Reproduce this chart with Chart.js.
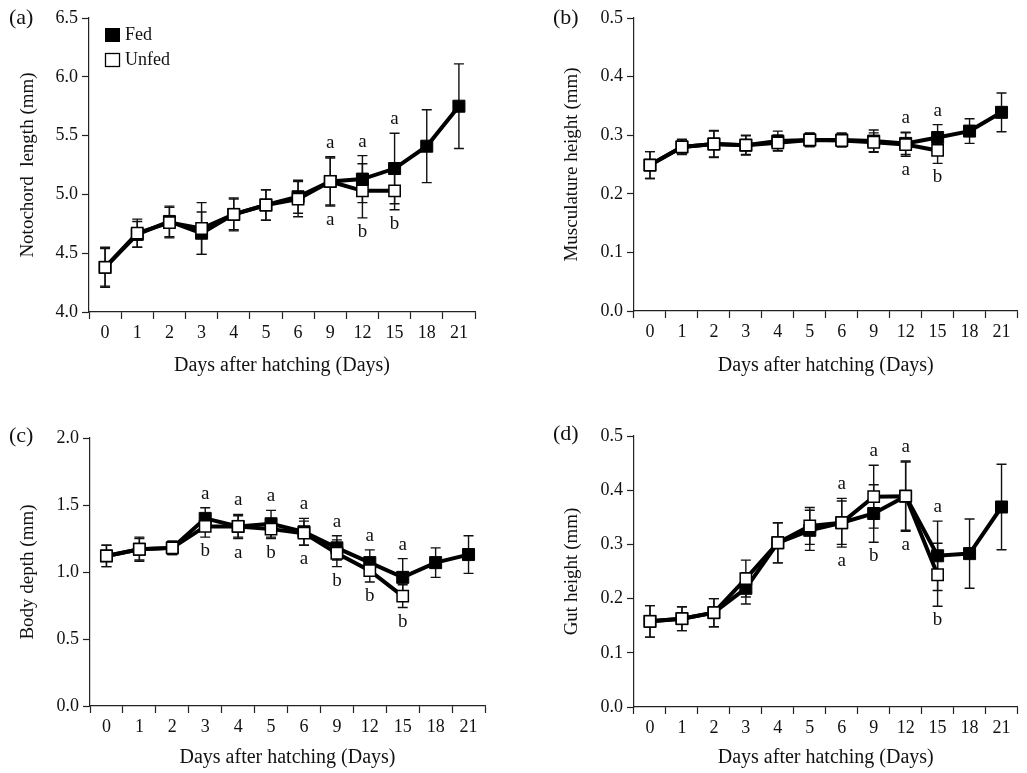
<!DOCTYPE html>
<html><head><meta charset="utf-8">
<script src="https://cdn.jsdelivr.net/npm/chart.js@4/dist/chart.umd.min.js"></script>
<style>
html,body{margin:0;padding:0;background:#fff;width:1027px;height:773px;overflow:hidden}
.panel{position:absolute}
canvas{display:block}
.lab{position:absolute;font-family:"Liberation Serif","Times New Roman",serif;font-size:22px;color:#111;line-height:1}
</style></head><body>
<div class="panel" style="left:0;top:0"><canvas id="ca" width="510" height="390"></canvas></div>
<div class="panel" style="left:510px;top:0"><canvas id="cb" width="517" height="390"></canvas></div>
<div class="panel" style="left:0;top:390px"><canvas id="cc" width="510" height="383"></canvas></div>
<div class="panel" style="left:510px;top:390px"><canvas id="cd" width="517" height="383"></canvas></div>
<div class="lab" style="left:9px;top:6px">(a)</div>
<div class="lab" style="left:553px;top:6px">(b)</div>
<div class="lab" style="left:9px;top:424px">(c)</div>
<div class="lab" style="left:553px;top:422px">(d)</div>
<script>
// ---- data ----
const days = ['0','1','2','3','4','5','6','9','12','15','18','21'];

const fedA      = [4.38, 4.66, 4.77, 4.67, 4.83, 4.91, 4.98, 5.11, 5.13, 5.22, 5.41, 5.75];
const fedAErr   = [0.16, 0.11, 0.13, 0.18, 0.14, 0.13, 0.14, 0.20, 0.20, 0.30, 0.31, 0.36];
const unfedA    = [4.38, 4.67, 4.76, 4.71, 4.83, 4.91, 4.96, 5.11, 5.03, 5.03, null, null];
const unfedAErr = [0.17, 0.12, 0.13, 0.22, 0.13, 0.13, 0.15, 0.21, 0.23, 0.16, null, null];
const sigA = [[7,'a','a'],[8,'a','b'],[9,'a','b']];

const fedB      = [0.249, 0.280, 0.285, 0.283, 0.290, 0.292, 0.292, 0.290, 0.286, 0.296, 0.307, 0.339];
const fedBErr   = [0.023, 0.012, 0.023, 0.016, 0.017, 0.012, 0.012, 0.019, 0.019, 0.022, 0.021, 0.033];
const unfedB    = [0.249, 0.280, 0.285, 0.283, 0.287, 0.292, 0.291, 0.288, 0.284, 0.274, null, null];
const unfedBErr = [0.023, 0.013, 0.022, 0.017, 0.013, 0.011, 0.011, 0.016, 0.020, 0.022, null, null];
const sigB = [[8,'a','a'],[9,'a','b']];

const fedC      = [1.12, 1.17, 1.18, 1.40, 1.34, 1.36, 1.30, 1.18, 1.07, 0.96, 1.07, 1.13];
const fedCErr   = [0.08, 0.09, 0.05, 0.08, 0.09, 0.10, 0.10, 0.09, 0.095, 0.14, 0.11, 0.14];
const unfedC    = [1.12, 1.17, 1.18, 1.34, 1.34, 1.32, 1.29, 1.14, 1.01, 0.82, null, null];
const unfedCErr = [0.08, 0.08, 0.05, 0.08, 0.08, 0.07, 0.09, 0.10, 0.085, 0.085, null, null];
const sigC = [[3,'a','b'],[4,'a','a'],[5,'a','b'],[6,'a','a'],[7,'a','b'],[8,'a','b'],[9,'a','b']];

const fedD      = [0.158, 0.163, 0.174, 0.219, 0.303, 0.326, 0.340, 0.357, 0.389, 0.279, 0.283, 0.369];
const fedDErr   = [0.029, 0.022, 0.026, 0.029, 0.037, 0.037, 0.040, 0.053, 0.063, 0.064, 0.064, 0.079];
const unfedD    = [0.158, 0.163, 0.174, 0.237, 0.303, 0.334, 0.340, 0.388, 0.389, 0.244, null, null];
const unfedDErr = [0.029, 0.022, 0.026, 0.034, 0.037, 0.034, 0.045, 0.058, 0.065, 0.058, null, null];
const sigD = [[6,'a','a'],[7,'a','b'],[8,'a','a'],[9,'a','b']];

const xTitle = 'Days after hatching (Days)';
const FONT = "'Liberation Serif','Times New Roman',serif";
const INK = '#111';

// ---- plugins ----
const errorBars = {
  id: 'errorBars',
  beforeDatasetsDraw(chart) {
    const ctx = chart.ctx, ys = chart.scales.y;
    ctx.save();
    ctx.strokeStyle = INK; ctx.lineWidth = 1.4;
    chart.data.datasets.forEach((ds, di) => {
      const meta = chart.getDatasetMeta(di);
      ds.data.forEach((v, i) => {
        if (v == null) return;
        const e = ds.err[i], x = meta.data[i].x;
        const y1 = ys.getPixelForValue(v + e), y2 = ys.getPixelForValue(v - e);
        ctx.beginPath();
        ctx.moveTo(x, y1); ctx.lineTo(x, y2);
        ctx.moveTo(x - 5, y1); ctx.lineTo(x + 5, y1);
        ctx.moveTo(x - 5, y2); ctx.lineTo(x + 5, y2);
        ctx.stroke();
      });
    });
    ctx.restore();
  }
};

const sig = {
  id: 'sig',
  afterDatasetsDraw(chart, args, opts) {
    const marks = opts.marks || [];
    const ctx = chart.ctx, ys = chart.scales.y, xs = chart.scales.x;
    ctx.save();
    ctx.fillStyle = INK; ctx.font = '19px ' + FONT;
    ctx.textAlign = 'center'; ctx.textBaseline = 'alphabetic';
    marks.forEach(([i, top, bot]) => {
      let hi = -Infinity, lo = Infinity;
      chart.data.datasets.forEach(ds => {
        const v = ds.data[i]; if (v == null) return;
        hi = Math.max(hi, v + ds.err[i]); lo = Math.min(lo, v - ds.err[i]);
      });
      const x = xs.getPixelForValue(i);
      ctx.fillText(top, x, ys.getPixelForValue(hi) - 9);
      ctx.fillText(bot, x, ys.getPixelForValue(lo) + 19);
    });
    ctx.restore();
  }
};

const keyBox = {
  id: 'keyBox',
  afterDraw(chart, args, opts) {
    if (!opts.show) return;
    const ctx = chart.ctx;
    ctx.save();
    ctx.fillStyle = '#000';
    ctx.fillRect(105, 28, 15, 14);
    ctx.fillStyle = '#fff'; ctx.strokeStyle = '#000'; ctx.lineWidth = 1.3;
    ctx.fillRect(105.5, 53.5, 14, 13); ctx.strokeRect(105.5, 53.5, 14, 13);
    ctx.fillStyle = INK; ctx.font = '18px ' + FONT;
    ctx.textAlign = 'left'; ctx.textBaseline = 'middle';
    ctx.fillText('Fed', 125, 35);
    ctx.fillText('Unfed', 125, 60);
    ctx.restore();
  }
};

function makePanel(id, c) {
  const axisCommon = {
    grid: { drawOnChartArea: false, drawTicks: true, tickLength: 7, tickColor: '#222', tickWidth: 1.2 },
    border: { color: '#222', width: 1.2 }
  };
  return new Chart(document.getElementById(id), {
    type: 'line',
    data: {
      labels: days,
      datasets: [
        { label: 'Fed', data: c.fed, err: c.fedErr, order: 1,
          borderColor: '#000', borderWidth: 4, tension: 0, spanGaps: false,
          pointStyle: 'rect', pointRadius: 8.5, pointBackgroundColor: '#000',
          pointBorderColor: '#000', pointBorderWidth: 1 },
        { label: 'Unfed', data: c.unfed, err: c.unfedErr, order: 0,
          borderColor: '#000', borderWidth: 4, tension: 0, spanGaps: false,
          pointStyle: 'rect', pointRadius: 8, pointBackgroundColor: '#fff',
          pointBorderColor: '#000', pointBorderWidth: 1.5 }
      ]
    },
    options: {
      responsive: false, animation: false, events: [],
      layout: { padding: c.pad },
      plugins: {
        legend: { display: false }, tooltip: { enabled: false },
        sig: { marks: c.marks }, keyBox: { show: !!c.key }
      },
      scales: {
        x: {
          type: 'category', offset: true,
          grid: Object.assign({}, axisCommon.grid, { offset: true }),
          border: axisCommon.border,
          ticks: { font: { family: FONT, size: 18 }, color: INK, padding: 3, autoSkip: false, maxRotation: 0 },
          title: { display: true, text: xTitle, font: { family: FONT, size: 20 }, color: INK,
                   padding: { top: 0, bottom: c.xtPad } },
          afterFit(s) { s.height = c.xh; }
        },
        y: {
          min: c.min, max: c.max,
          grid: axisCommon.grid, border: axisCommon.border,
          ticks: { stepSize: c.step, font: { family: FONT, size: 18 }, color: INK, padding: 4,
                   callback: v => Number(v).toFixed(1) },
          title: { display: true, text: c.yTitle, font: { family: FONT, size: 19 }, color: INK,
                   padding: { top: c.ytPad, bottom: 0 } },
          afterFit(s) { s.width = c.yw; }
        }
      }
    },
    plugins: [errorBars, sig, keyBox]
  });
}

makePanel('ca', { fed: fedA, fedErr: fedAErr, unfed: unfedA, unfedErr: unfedAErr, marks: sigA, key: true,
  min: 4.0, max: 6.5, step: 0.5, yTitle: 'Notochord  length (mm)',
  pad: { left: 0, top: 18, right: 35, bottom: 0 }, yw: 89, xh: 78, xtPad: 12, ytPad: 16.6 });
makePanel('cb', { fed: fedB, fedErr: fedBErr, unfed: unfedB, unfedErr: unfedBErr, marks: sigB,
  min: 0.0, max: 0.5, step: 0.1, yTitle: 'Musculature height (mm)',
  pad: { left: 0, top: 18, right: 0, bottom: 0 }, yw: 124, xh: 79, xtPad: 12, ytPad: 50.6 });
makePanel('cc', { fed: fedC, fedErr: fedCErr, unfed: unfedC, unfedErr: unfedCErr, marks: sigC,
  min: 0.0, max: 2.0, step: 0.5, yTitle: 'Body depth (mm)',
  pad: { left: 0, top: 48, right: 25, bottom: 0 }, yw: 90, xh: 67, xtPad: 3, ytPad: 16.6 });
makePanel('cd', { fed: fedD, fedErr: fedDErr, unfed: unfedD, unfedErr: unfedDErr, marks: sigD,
  min: 0.0, max: 0.5, step: 0.1, yTitle: 'Gut height (mm)',
  pad: { left: 0, top: 46, right: 3, bottom: 0 }, yw: 124, xh: 66, xtPad: 3, ytPad: 50.6 });
</script>
</body></html>
